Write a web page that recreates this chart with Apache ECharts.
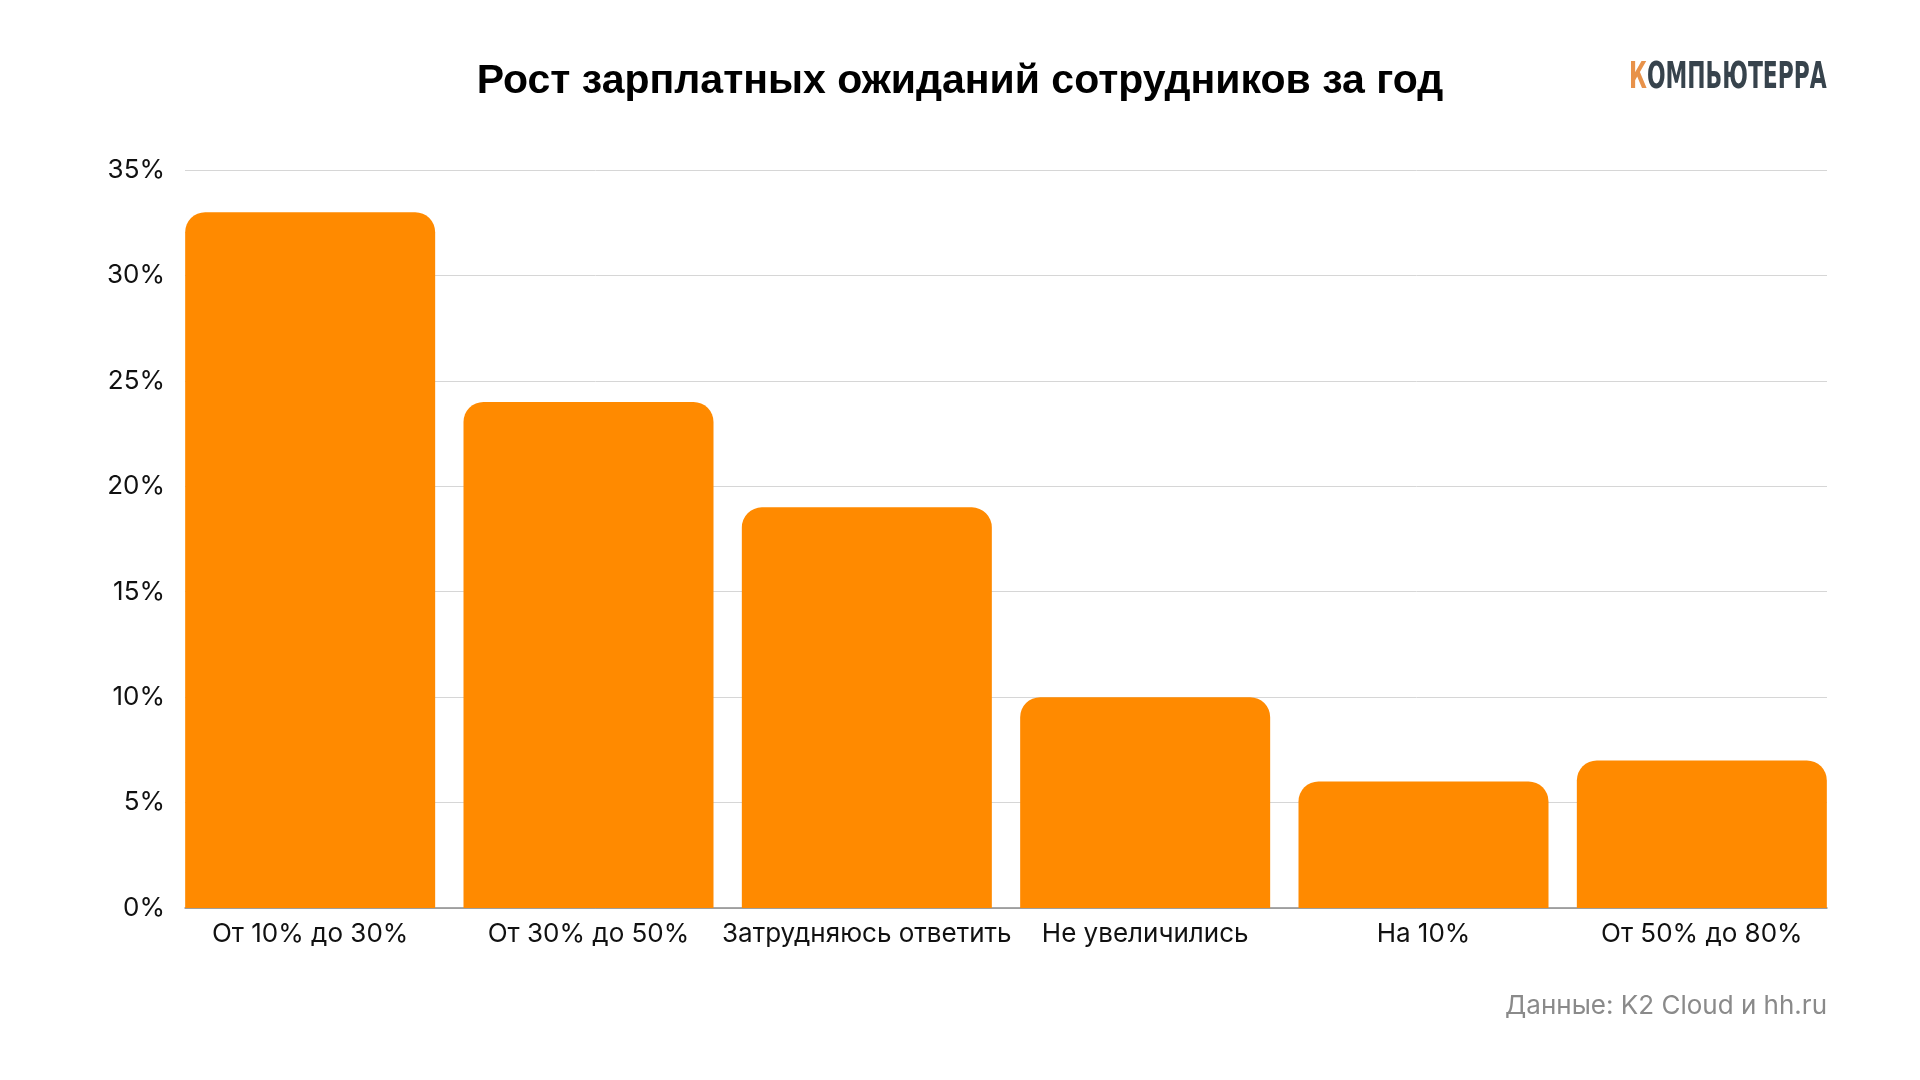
<!DOCTYPE html>
<html>
<head>
<meta charset="utf-8">
<style>
    html, body { margin: 0; padding: 0; background: #ffffff; }
    #chart { width: 1920px; height: 1080px; }
</style>
<script src="https://cdn.jsdelivr.net/npm/echarts@6/dist/echarts.min.js"></script>
</head>
<body>
<div id="chart"></div>
<script>
    var categories = ['От 10% до 30%', 'От 30% до 50%', 'Затрудняюсь ответить', 'Не увеличились', 'На 10%', 'От 50% до 80%'];
    var shares = [33, 24, 19, 10, 6, 7];
    var tickMax = 35;
    var tickStep = 5;

    var chart = echarts.init(document.getElementById('chart'));

    chart.setOption({
        backgroundColor: '#ffffff',
        animation: false,
        title: {
            text: 'Рост зарплатных ожиданий сотрудников за год',
            left: 'center',
            top: 56,
            textStyle: {
                fontFamily: 'Liberation Sans',
                fontWeight: 'bold',
                fontSize: 41,
                color: '#000000'
            }
        },
        // grid 0 carries the y scale and grid lines, grid 1 the bars (flush with the edges)
        grid: [
            { left: 185, right: 93, top: 170, bottom: 172 },
            { left: 171, right: 79, top: 170, bottom: 172 }
        ],
        xAxis: [{
            type: 'category',
            gridIndex: 0,
            data: categories,
            axisLine: { show: true, lineStyle: { color: '#8c8c8c', width: 1.5 } },
            axisTick: { show: false },
            axisLabel: { show: false }
        }, {
            type: 'category',
            gridIndex: 1,
            data: categories,
            axisLine: { show: false },
            axisTick: { show: false },
            axisLabel: {
                interval: 0,
                margin: 13,
                fontFamily: 'Inter',
                fontSize: 26,
                color: '#111111'
            }
        }],
        yAxis: [{
            type: 'value',
            gridIndex: 0,
            min: 0,
            max: tickMax,
            interval: tickStep,
            axisLine: { show: false },
            axisTick: { show: false },
            axisLabel: {
                margin: 20,
                formatter: '{value}%',
                fontFamily: 'Inter',
                fontSize: 26,
                color: '#111111'
            },
            splitLine: { lineStyle: { color: '#d6d6d6', width: 1 } }
        }, {
            type: 'value',
            gridIndex: 1,
            min: 0,
            max: tickMax,
            interval: tickStep,
            show: false,
            splitLine: { show: false }
        }],
        series: [{
            type: 'bar',
            xAxisIndex: 1,
            yAxisIndex: 1,
            data: shares,
            barWidth: 250,
            z: 3,
            itemStyle: {
                color: '#ff8a00',
                borderRadius: [20, 20, 0, 0]
            }
        }],
        graphic: [{
            type: 'text',
            x: 1629,
            y: 78,
            scaleX: 0.64,
            style: {
                text: '{k|К}{r|ОМПЬЮТЕРРА}',
                textVerticalAlign: 'middle',
                rich: {
                    k: { fontFamily: 'DejaVu Sans Condensed', fontWeight: 'bold', fontSize: 38, fill: '#e8924a' },
                    r: { fontFamily: 'DejaVu Sans Condensed', fontWeight: 'bold', fontSize: 38, fill: '#37434c' }
                }
            }
        }, {
            type: 'text',
            right: 93,
            top: 993,
            style: {
                text: 'Данные: K2 Cloud и hh.ru',
                fontFamily: 'Inter',
                fontSize: 26,
                fill: '#8a8a8a'
            }
        }]
    });
</script>
</body>
</html>
